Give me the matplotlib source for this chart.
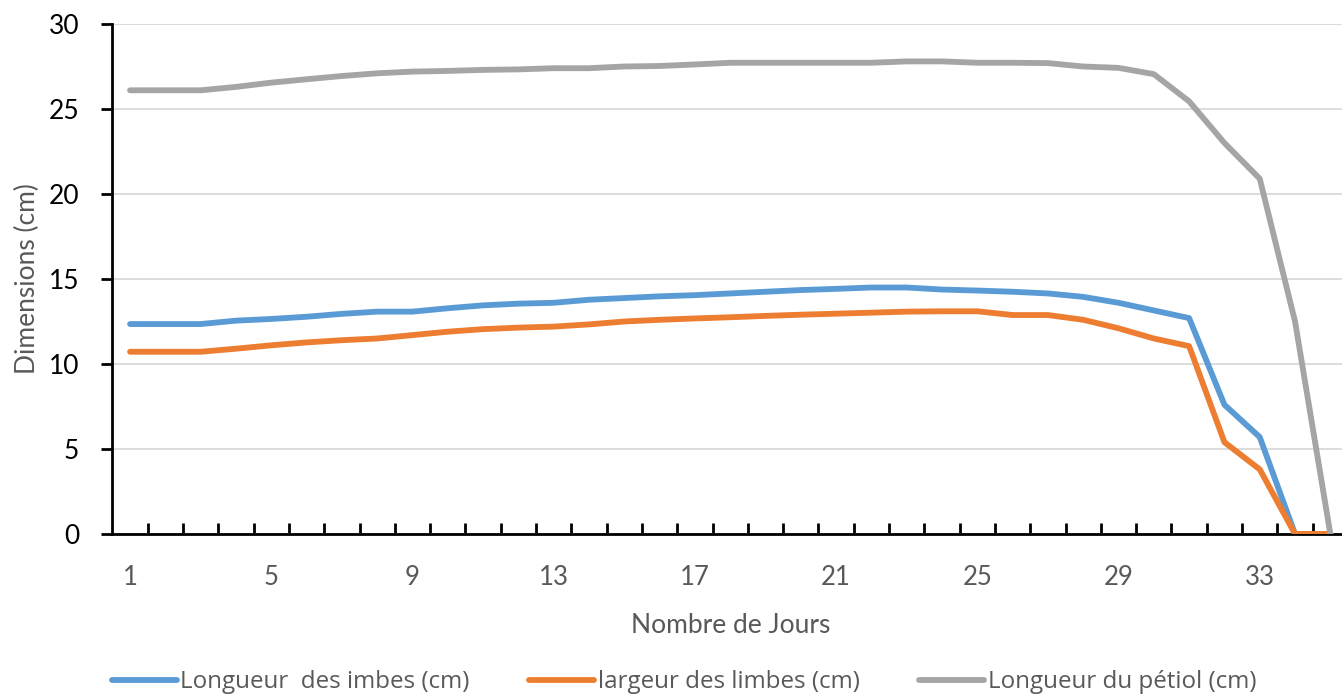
import matplotlib
matplotlib.use("Agg")
import matplotlib.pyplot as plt
from matplotlib.ticker import FixedLocator, NullFormatter

days = list(range(1, 36))
longueur_limbes = [12.35, 12.35, 12.35, 12.55, 12.65, 12.78, 12.95, 13.08, 13.08, 13.28,
                   13.45, 13.55, 13.6, 13.78, 13.88, 13.98, 14.05, 14.15, 14.25, 14.35,
                   14.42, 14.5, 14.5, 14.38, 14.32, 14.25, 14.15, 13.95, 13.6, 13.15,
                   12.7, 7.6, 5.7, 0.0, 0.0]
largeur_limbes = [10.72, 10.72, 10.72, 10.9, 11.1, 11.27, 11.4, 11.5, 11.7, 11.9,
                  12.05, 12.14, 12.2, 12.33, 12.5, 12.6, 12.68, 12.75, 12.83, 12.9,
                  12.96, 13.02, 13.08, 13.1, 13.1, 12.88, 12.88, 12.6, 12.1, 11.5,
                  11.05, 5.4, 3.8, 0.0, 0.0]
longueur_petiole = [26.1, 26.1, 26.1, 26.3, 26.55, 26.75, 26.94, 27.1, 27.2, 27.24,
                    27.3, 27.33, 27.4, 27.4, 27.5, 27.53, 27.62, 27.72, 27.72, 27.72,
                    27.72, 27.72, 27.8, 27.8, 27.72, 27.72, 27.7, 27.5, 27.42, 27.05,
                    25.45, 23.0, 20.9, 12.5, 0.0]
series_labels = ["Longueur  des imbes (cm)", "largeur des limbes (cm)", "Longueur du pétiol (cm)"]
colors = ["#5B9BD5", "#ED7D31", "#A5A5A5"]
x_tick_labels = [1, 5, 9, 13, 17, 21, 25, 29, 33]
y_ticks = [0, 5, 10, 15, 20, 25, 30]

plt.rcParams['font.family'] = ['Lato', 'DejaVu Sans']

fig = plt.figure(figsize=(13.42, 6.95), dpi=100)
W, H = 1342, 695
left_px, right_px, top_px, bot_px = 112.4, 1348.0, 24, 534
ax = fig.add_axes([left_px / W, 1 - bot_px / H, (right_px - left_px) / W, (bot_px - top_px) / H])

for vals, lab, c in zip([longueur_limbes, largeur_limbes, longueur_petiole], series_labels, colors):
    ax.plot(days, vals, color=c, lw=4.2, label=lab, solid_joinstyle='round',
            solid_capstyle='round', zorder=3)

ax.set_xlim(0.5, 35.5)
ax.set_ylim(0, 30)
ax.set_yticks(y_ticks)
ax.yaxis.grid(True, color="#D9D9D9", lw=1.3, zorder=0)
ax.set_axisbelow(True)

ax.xaxis.set_major_locator(FixedLocator(x_tick_labels))
ax.xaxis.set_minor_locator(FixedLocator([d + 0.5 for d in days[:-1]]))
ax.xaxis.set_minor_formatter(NullFormatter())
ax.tick_params(axis='x', which='major', length=0, pad=22, labelsize=18.5, labelcolor="#595959")
ax.tick_params(axis='x', which='minor', direction='in', length=8, width=2, color='black')
ax.tick_params(axis='y', which='major', direction='out', length=8, width=2, pad=16,
               labelsize=19, labelcolor='black')

for s in ['top', 'right']:
    ax.spines[s].set_visible(False)
ax.spines['left'].set_linewidth(2)
ax.spines['bottom'].set_linewidth(2)

ax.set_xlabel("Nombre de Jours", fontsize=19, color="#595959")
ax.xaxis.set_label_coords(0.5, -0.155)
ax.set_ylabel("Dimensions (cm)", fontsize=19, color="#595959")
ax.yaxis.set_label_coords(-0.0586, 0.5)

leg = fig.legend(loc='center', bbox_to_anchor=(0.5097, 1 - 682 / H), ncol=3, frameon=False,
                 handlelength=2.7, handletextpad=0.15, columnspacing=2.45,
                 labelcolor="#595959", prop={'family': ['Open Sans', 'DejaVu Sans'], 'size': 17.4})

fig.savefig("out.png", dpi=100)
